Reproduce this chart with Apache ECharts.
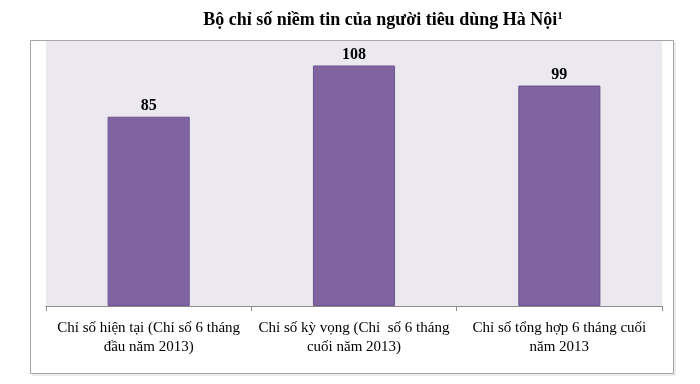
<!DOCTYPE html>
<html>
<head>
<meta charset="utf-8">
<script src="https://cdn.jsdelivr.net/npm/echarts@6/dist/echarts.min.js"></script>
<style>html,body{margin:0;padding:0;background:#fff}#c{width:700px;height:384px}</style>
</head>
<body>
<div id="c"></div>
<script>
const categories = [
  "Chỉ số hiện tại (Chỉ số 6 tháng\nđầu năm 2013)",
  "Chỉ số kỳ vọng (Chỉ  số 6 tháng\ncuối năm 2013)",
  "Chỉ số tổng hợp 6 tháng cuối\nnăm 2013"
];
const values = [85, 108, 99];
const titleText = "Bộ chỉ số niềm tin của người tiêu dùng Hà Nội";
const titleSup = "1";

const chart = echarts.init(document.getElementById('c'));
chart.setOption({
  animation: false,
  backgroundColor: '#fff',
  graphic: [
    { type: 'rect', z: -10, shape: { x: 30.5, y: 40.5, width: 643, height: 333 },
      style: { fill: '#fff', stroke: '#a6a6a6', lineWidth: 1 } },
    { type: 'line', z: -10, shape: { x1: 675, y1: 42, x2: 675, y2: 375 }, style: { stroke: '#d9d9d9', lineWidth: 1 } },
    { type: 'line', z: -10, shape: { x1: 32, y1: 375, x2: 675, y2: 375 }, style: { stroke: '#d9d9d9', lineWidth: 1 } }
  ],
  title: {
    text: '{t|' + titleText + '}{s|' + titleSup + '}',
    left: 378, top: 6, textAlign: 'center',
    textStyle: {
      rich: {
        t: { fontFamily: 'Liberation Serif', fontWeight: 'bold', fontSize: 18, color: '#000' },
        s: { fontFamily: 'Liberation Serif', fontWeight: 'bold', fontSize: 11, color: '#000', verticalAlign: 'top', padding: [0,0,7,0] }
      }
    }
  },
  grid: { left: 46, right: 38, top: 41, bottom: 78, show: true, backgroundColor: '#ebe9ef', borderWidth: 0 },
  xAxis: {
    type: 'category', data: categories,
    axisLine: { lineStyle: { color: '#8c8c8c', width: 1 } },
    axisTick: { show: true, length: 5, lineStyle: { color: '#8c8c8c' } },
    axisLabel: { fontFamily: 'Liberation Serif', fontSize: 15, color: '#000', lineHeight: 19, margin: 13, interval: 0 }
  },
  yAxis: { type: 'value', min: 0, max: 119, show: false, splitLine: { show: false } },
  series: [{
    type: 'bar', data: values, barCategoryGap: '60%',
    itemStyle: { color: '#8064a2', borderColor: '#6e5590', borderWidth: 1 },
    label: { show: true, position: 'top', distance: 3, fontFamily: 'Liberation Serif', fontWeight: 'bold', fontSize: 16, color: '#000' }
  }]
});
</script>
</body>
</html>
